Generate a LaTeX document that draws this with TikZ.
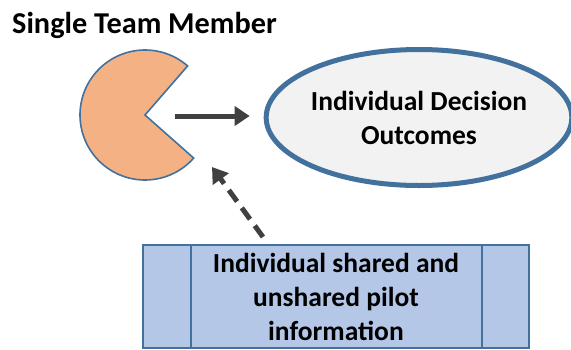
\documentclass[tikz,border=0pt]{standalone}
\usepackage{fontspec}
\setmainfont{Carlito}
\usetikzlibrary{shapes.geometric,arrows.meta}
\definecolor{edgeblue}{HTML}{41719C}
\definecolor{pacfill}{HTML}{F4B183}
\definecolor{ellfill}{HTML}{F2F2F2}
\definecolor{boxfill}{HTML}{B4C7E7}
\definecolor{arrowgray}{HTML}{404040}
\tikzset{
  lbl/.style={font=\fontsize{27.5}{34}\selectfont\bfseries, text=black, inner sep=0pt},
  flow/.style={draw=arrowgray, line width=5pt, -{Triangle[length=15pt,width=19pt]}},
  dashflow/.style={flow, dash pattern=on 14pt off 8pt},
}
\begin{document}
\begin{tikzpicture}[x=1pt,y=-1pt]
\useasboundingbox (0,0) rectangle (571,349);
% title
\node[lbl, font=\fontsize{30.3}{36}\selectfont\bfseries, anchor=base west] (title) at (12,33) {Single Team Member};
% pacman
\draw[draw=edgeblue, fill=pacfill, line width=1.6pt, line join=miter]
  (145,115) -- ++(-49:65) arc[start angle=-49, end angle=-318.5, radius=65] -- cycle;
\coordinate (mouth) at (175,116);
% ellipse
\node[ellipse, draw=edgeblue, fill=ellfill, line width=5pt,
      minimum width=299pt, minimum height=136pt, inner sep=0pt,
      lbl, align=center] (dec) at (419,117.5) {Individual Decision\\Outcomes};
% box
\node[rectangle, draw=edgeblue, fill=boxfill, line width=1.6pt,
      minimum width=386pt, minimum height=103pt, inner sep=0pt,
      lbl, align=center] (info) at (336,296.5) {Individual shared and\\unshared pilot\\information};
\draw[draw=edgeblue, line width=1.6pt] (info.north west) ++(49,0) -- ++(0,103);
\draw[draw=edgeblue, line width=1.6pt] (info.north east) ++(-48,0) -- ++(0,103);
% arrows
\coordinate (dtail) at (263,237);
\coordinate (dtip) at (212,167);
\draw[flow, shorten >=14pt] (mouth) -- (mouth -| dec.west);
\draw[dashflow] (dtail) -- (dtip);
\end{tikzpicture}
\end{document}
